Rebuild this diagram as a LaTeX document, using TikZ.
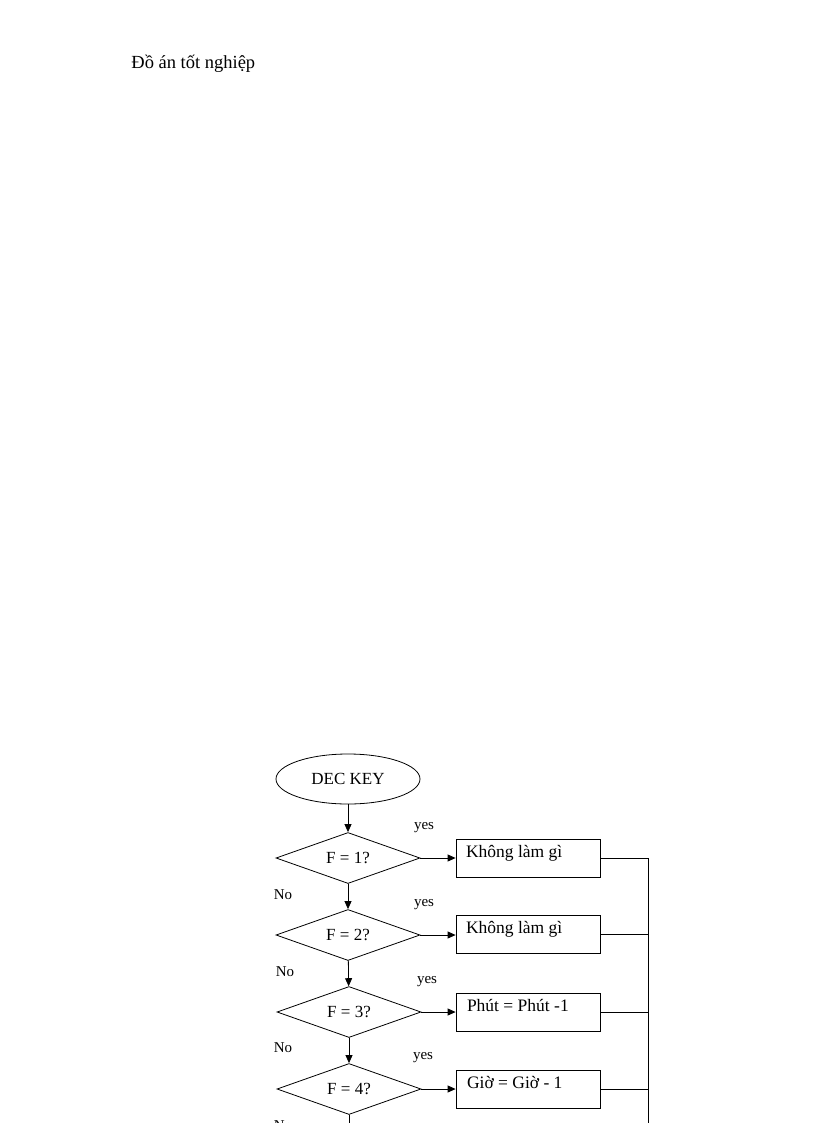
\documentclass[tikz,border=0pt]{standalone}
\usepackage{fontspec}
\setmainfont{Liberation Serif}
\usetikzlibrary{shapes.geometric,arrows.meta}
\begin{document}
\begin{tikzpicture}[x=1pt,y=-1pt,
  dec/.style={diamond,draw,aspect=2.8,minimum width=144pt,minimum height=51pt,inner sep=0pt,font=\fontsize{17}{19}\selectfont},
  act/.style={draw,minimum width=144pt,minimum height=38pt,inner sep=0pt},
  acttxt/.style={anchor=north west,inner sep=0pt,font=\fontsize{17.5}{19}\selectfont},
  lbl/.style={font=\fontsize{15}{17}\selectfont},
  arr/.style={-{Triangle[length=8pt,width=7pt]}},
  line width=0.8pt]
\useasboundingbox (0,0) rectangle (816,1123);
\clip (0,0) rectangle (816,1123);
\node[anchor=west,inner sep=0pt,font=\fontsize{18.5}{21}\selectfont] (hdr) at (131,64) {Đồ án tốt nghiệp};
\node[ellipse,draw,minimum width=144pt,minimum height=50pt,font=\fontsize{17}{19}\selectfont] (start) at (348,779) {DEC KEY};
\node[dec] (d1) at (348,858) {F = 1?};
\node[dec] (d2) at (348,935) {F = 2?};
\node[dec] (d3) at (349,1012) {F = 3?};
\node[dec] (d4) at (349,1089) {F = 4?};
\coordinate (d5) at (349,1140);
\node[act] (b1) at (528,858) {};
\node[act] (b2) at (528,934) {};
\node[act] (b3) at (528,1012) {};
\node[act] (b4) at (528,1089) {};
\node[acttxt] (t1) at ([xshift=10pt,yshift=-6pt]b1.north west) {Không làm gì};
\node[acttxt] (t2) at ([xshift=10pt,yshift=-6pt]b2.north west) {Không làm gì};
\node[acttxt] (t3) at ([xshift=11pt,yshift=-6pt]b3.north west) {Phút = Phút -1};
\node[acttxt] (t4) at ([xshift=11pt,yshift=-6pt]b4.north west) {Giờ = Giờ - 1};
\draw[arr] (start) -- (d1);
\draw[arr] (d1) -- (d2);
\draw[arr] (d2) -- (d3);
\draw[arr] (d3) -- (d4);
\draw (d4) -- (d5);
\foreach \i in {1,2,3,4}{\draw[arr] (d\i.east) -- (d\i.east -| b\i.west);}
\coordinate (r1) at (648,858);
\coordinate (r5) at (648,1140);
\draw (b1.east) -- (r1) -- (r5);
\draw (b2.east) -- (b2.east -| r1);
\draw (b3.east) -- (b3.east -| r1);
\draw (b4.east) -- (b4.east -| r1);
\node[lbl] (y1) at (424,828) {yes};
\node[lbl] (y2) at (424,905) {yes};
\node[lbl] (y3) at (427,982) {yes};
\node[lbl] (y4) at (423,1058) {yes};
\node[lbl] (n1) at (283,895) {No};
\node[lbl] (n2) at (285,972) {No};
\node[lbl] (n3) at (283,1048) {No};
\node[lbl] (n4) at (283,1126) {No};
\end{tikzpicture}
\end{document}
